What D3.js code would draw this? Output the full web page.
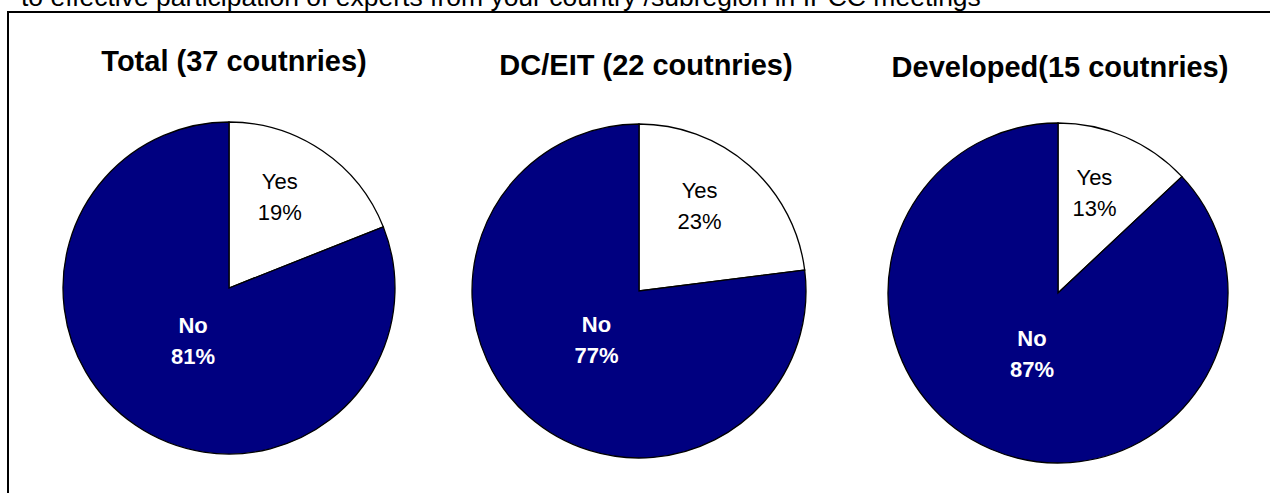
<!DOCTYPE html>
<html>
<head>
<meta charset="utf-8">
<script src="https://cdn.jsdelivr.net/npm/d3@7"></script>
<style>
  html, body { margin: 0; padding: 0; background: #fff; }
  svg { display: block; }
  text { font-family: "Liberation Sans", Arial, Helvetica, sans-serif; }
</style>
</head>
<body>
<svg id="chart" width="1270" height="493"></svg>
<script>
// ---- data ----
const headerText = "to effective participation of experts from your country /subregion in IPCC meetings";
const groupTitles = ["Total (37 coutnries)", "DC/EIT (22 coutnries)", "Developed(15 coutnries)"];
const categories = ["Yes", "No"];
const yesValues = [19, 23, 13];
const noValues = [81, 77, 87];

// ---- layout ----
const W = 1270, H = 493;
const svg = d3.select("#chart");

svg.append("rect").attr("width", W).attr("height", H).attr("fill", "#fff");

// frame (continues past right and bottom edges)
svg.append("rect")
  .attr("x", 8).attr("y", 12)
  .attr("width", W + 20).attr("height", H + 20)
  .attr("fill", "none").attr("stroke", "#000").attr("stroke-width", 2);

// header line (partially cut off at top, as in the original)
svg.append("text")
  .attr("x", 21).attr("y", 5.5)
  .attr("font-size", 26.5)
  .attr("fill", "#000")
  .text(headerText);

const pies = [
  { cx: 229, cy: 288, r: 166, titleX: 234, titleY: 71 },
  { cx: 639, cy: 291, r: 167, titleX: 646, titleY: 75 },
  { cx: 1058, cy: 293, r: 170, titleX: 1060, titleY: 77 }
];

const color = d3.scaleOrdinal().domain(categories).range(["#ffffff", "#000080"]);
const labelColor = d3.scaleOrdinal().domain(categories).range(["#000000", "#ffffff"]);
const labelWeight = d3.scaleOrdinal().domain(categories).range(["normal", "bold"]);
const labelRadius = d3.scaleOrdinal().domain(categories).range([0.63, 0.385]);
const labelAngleFactor = d3.scaleOrdinal().domain(categories).range([0.85, 1.0]);

const pieGen = d3.pie().sort(null).value(d => d.value);

pies.forEach((p, i) => {
  const data = [
    { cat: "Yes", value: yesValues[i] },
    { cat: "No", value: noValues[i] }
  ];
  const g = svg.append("g").attr("transform", `translate(${p.cx},${p.cy})`);
  const arc = d3.arc().innerRadius(0).outerRadius(p.r);
  const arcs = pieGen(data);

  g.selectAll("path.slice")
    .data(arcs)
    .join("path")
    .attr("class", "slice")
    .attr("d", arc)
    .attr("fill", d => color(d.data.cat))
    .attr("stroke", "#000")
    .attr("stroke-width", 1.3)
    .attr("stroke-linejoin", "miter");

  arcs.forEach(d => {
    const rr = p.r * labelRadius(d.data.cat);
    const mid = (d.startAngle + d.endAngle) / 2 * labelAngleFactor(d.data.cat);
    const lx = rr * Math.sin(mid);
    const ly = -rr * Math.cos(mid);
    const t = g.append("text")
      .attr("text-anchor", "middle")
      .attr("font-size", 22)
      .attr("font-weight", labelWeight(d.data.cat))
      .attr("fill", labelColor(d.data.cat));
    t.append("tspan").attr("x", lx).attr("y", ly - 7.5).text(d.data.cat);
    t.append("tspan").attr("x", lx).attr("y", ly + 23.5).text(d.data.value + "%");
  });

  svg.append("text")
    .attr("x", p.titleX).attr("y", p.titleY)
    .attr("text-anchor", "middle")
    .attr("font-size", 29)
    .attr("font-weight", "bold")
    .attr("fill", "#000")
    .text(groupTitles[i]);
});
</script>
</body>
</html>
